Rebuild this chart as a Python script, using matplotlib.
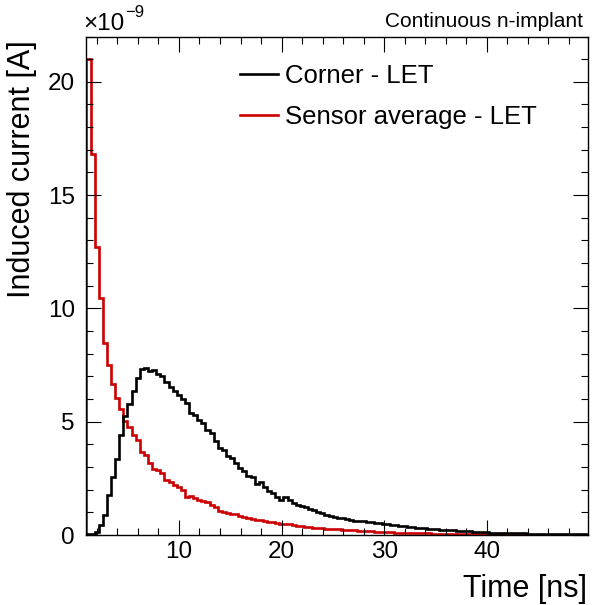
import numpy as np
import matplotlib
matplotlib.use("Agg")
import matplotlib.pyplot as plt
from matplotlib.ticker import MultipleLocator
from matplotlib.lines import Line2D

plt.rcParams['font.family'] = ['Liberation Sans', 'DejaVu Sans']

# histogram binning (ns)
t_start = 0.98
bin_width = 0.4

# induced current per bin, in units of 1e-9 A
corner_let = [
    0.03, 0.05, 0.15, 0.44, 0.88, 1.76, 2.54, 3.35, 4.41, 5.25, 5.78, 6.35, 6.91, 7.32, 7.35, 7.25, 7.28, 7.09, 7.03,
    6.74, 6.51, 6.37, 6.18, 5.99, 5.84, 5.40, 5.29, 5.07, 4.95, 4.63, 4.49, 4.16, 3.82, 3.75, 3.48, 3.38, 3.16,
    2.94, 2.84, 2.60, 2.54, 2.25, 2.35,
    2.10, 1.95, 1.84, 1.69, 1.54, 1.69, 1.54, 1.40, 1.33, 1.30, 1.22, 1.13, 1.10, 1.03, 0.96, 0.88, 0.84, 0.78,
    0.74, 0.74, 0.72, 0.66, 0.63, 0.62, 0.60, 0.58, 0.56, 0.54, 0.52, 0.50, 0.48,
    0.44, 0.42, 0.40, 0.38, 0.36, 0.35, 0.33, 0.32, 0.30,
    0.27, 0.26, 0.25, 0.24, 0.23, 0.21, 0.20, 0.19, 0.18, 0.17,
    0.16, 0.15, 0.15, 0.14, 0.12, 0.11,
    0.10, 0.10, 0.09, 0.09, 0.08, 0.08, 0.07, 0.07, 0.06, 0.06, 0.06, 0.05, 0.05, 0.05, 0.04, 0.04, 0.04, 0.04,
    0.03, 0.03, 0.03, 0.03, 0.03, 0.02,
]

sensor_avg_let = [
    21.0, 16.8, 12.7, 10.44, 8.46, 7.50, 6.66, 6.03, 5.54, 5.04, 4.78, 4.41, 4.19, 3.67, 3.53, 3.19, 2.90, 2.88, 2.75,
    2.43, 2.35, 2.20, 2.13, 1.98, 1.69, 1.72, 1.62, 1.54, 1.51, 1.47, 1.32, 1.25, 1.07, 1.03, 0.98, 0.93, 0.93,
    0.85, 0.78, 0.74, 0.70,
    0.68, 0.66, 0.61, 0.59, 0.58, 0.53, 0.50, 0.49, 0.47, 0.43, 0.41, 0.40,
    0.36, 0.34, 0.33, 0.32, 0.31, 0.28, 0.26, 0.25, 0.25, 0.24,
    0.22, 0.21, 0.20, 0.19, 0.19, 0.18, 0.16, 0.15, 0.14, 0.13, 0.13, 0.12, 0.11,
    0.10, 0.10, 0.09, 0.09, 0.08, 0.08, 0.07,
    0.07, 0.06, 0.06, 0.05, 0.05, 0.05, 0.04, 0.04, 0.04, 0.04,
    0.03, 0.03, 0.03, 0.03, 0.03, 0.03, 0.03, 0.02, 0.02, 0.02, 0.02, 0.02, 0.02, 0.02, 0.02, 0.02, 0.02,
    0.01, 0.01, 0.01, 0.01, 0.01, 0.01, 0.01, 0.01, 0.01, 0.01, 0.01, 0.01, 0.01,
]

labels = ["Corner - LET", "Sensor average - LET"]
colors = ["black", "#cc0000"]

n_bins = len(corner_let)
edges = t_start + bin_width * np.arange(n_bins + 1)

fig = plt.figure(figsize=(5.93, 6.05), dpi=100)
ax = fig.add_axes([86 / 593, 70 / 605, 502 / 593, 498.5 / 605])

# red first so the black sits on top near zero, as in the original
ax.stairs(sensor_avg_let, edges, baseline=0, color=colors[1], lw=1.9)
ax.stairs(corner_let, edges, baseline=0, color=colors[0], lw=1.9)

ax.set_xlim(0.94, 49.86)
ax.set_ylim(0, 22)

ax.xaxis.set_major_locator(MultipleLocator(10))
ax.xaxis.set_minor_locator(MultipleLocator(2))
ax.yaxis.set_major_locator(MultipleLocator(5))
ax.yaxis.set_minor_locator(MultipleLocator(1))

ax.tick_params(which='both', direction='in', top=True, right=True, width=0.8, colors='black')
ax.tick_params(which='major', length=10.5)
ax.tick_params(which='minor', length=5)
ax.tick_params(axis='x', labelsize=17.5, pad=4)
ax.tick_params(axis='y', labelsize=17.5, pad=8)
for s in ax.spines.values():
    s.set_linewidth(1.0)

# legend
handles = [Line2D([], [], color=c, lw=1.9) for c in colors]
ax.legend(handles, labels, loc='upper left', bbox_to_anchor=(240 / 593, 1 - 64 / 605),
          bbox_transform=fig.transFigure, frameon=False, fontsize=18.5,
          handlelength=1.48, handletextpad=0.28, labelspacing=0.65, borderpad=0, borderaxespad=0)

# axis titles, ROOT style (aligned to the axis ends)
fig.text(587 / 593, 1 - 597 / 605, "Time [ns]", ha='right', va='baseline', fontsize=22)
fig.text(22 / 593, 1 - 40 / 605, "Induced current [A]", rotation=90, ha='center', va='top', fontsize=22)

# exponent of the y axis
fig.text(83 / 593, 1 - 30 / 605, "\u00d710", ha='left', va='baseline', fontsize=17.5)
fig.text(125 / 593, 1 - 17 / 605, "\u22129", ha='left', va='baseline', fontsize=12)

fig.text(583 / 593, 1 - 27 / 605, "Continuous n-implant", ha='right', va='baseline', fontsize=15)

fig.savefig("out.png", dpi=100)
